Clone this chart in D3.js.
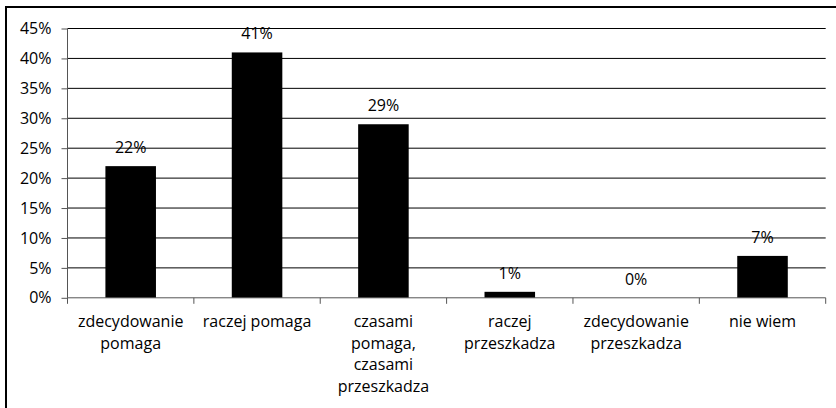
<!DOCTYPE html>
<html>
<head>
<meta charset="utf-8">
<script src="https://cdn.jsdelivr.net/npm/d3@7"></script>
<style>
  html, body { margin: 0; padding: 0; background: #fff; }
  svg { display: block; }
  text { font-family: "Open Sans", "Noto Sans", sans-serif; fill: #000; }
</style>
</head>
<body>
<svg id="chart" width="836" height="408"></svg>
<script>
// Survey answers and their share of responses (%)
const categories = [
  ["zdecydowanie", "pomaga"],
  ["raczej pomaga"],
  ["czasami", "pomaga,", "czasami", "przeszkadza"],
  ["raczej", "przeszkadza"],
  ["zdecydowanie", "przeszkadza"],
  ["nie wiem"]
];
const values = [22, 41, 29, 1, 0, 7];
const yTicks = [0, 5, 10, 15, 20, 25, 30, 35, 40, 45];

const FONT_SIZE = 16;
const svg = d3.select("#chart");
const plot = { left: 67.5, right: 825.7, top: 28.5, bottom: 297.8 };

// Outer frame (its right and bottom edges run off the canvas)
svg.append("rect")
  .attr("x", 6).attr("y", 7)
  .attr("width", 900).attr("height", 500)
  .attr("fill", "none").attr("stroke", "#000").attr("stroke-width", 2);

const x = d3.scaleBand()
  .domain(d3.range(categories.length))
  .range([plot.left, plot.right])
  .paddingInner(0.6).paddingOuter(0.3);

const y = d3.scaleLinear().domain([0, 45]).range([plot.bottom, plot.top]);

// Horizontal gridlines
svg.append("g").selectAll("line")
  .data(yTicks.filter(d => d > 0))
  .join("line")
  .attr("x1", plot.left).attr("x2", plot.right)
  .attr("y1", d => y(d)).attr("y2", d => y(d))
  .attr("stroke", "#000").attr("stroke-width", 1);

// Y axis
const yAxis = d3.axisLeft(y).tickValues(yTicks).tickFormat(d => d + "%").tickSize(6).tickPadding(10);
const gy = svg.append("g").attr("transform", `translate(${plot.left},0)`).call(yAxis);
gy.select(".domain").attr("stroke", "#555").attr("d", `M0,${plot.top}V${plot.bottom}`);
gy.selectAll(".tick line").attr("stroke", "#555");
gy.selectAll(".tick text").attr("font-size", FONT_SIZE).attr("font-family", "Open Sans").attr("fill", "#000");

// Bars
svg.append("g").selectAll("rect")
  .data(values)
  .join("rect")
  .attr("x", (d, i) => x(i))
  .attr("width", x.bandwidth())
  .attr("y", d => y(d))
  .attr("height", d => plot.bottom - y(d))
  .attr("fill", "#000");

// X axis baseline with boundary ticks between categories
const gx = svg.append("g");
gx.append("line")
  .attr("x1", plot.left).attr("x2", plot.right)
  .attr("y1", plot.bottom).attr("y2", plot.bottom)
  .attr("stroke", "#555");
gx.selectAll("line.tick")
  .data(d3.range(categories.length + 1))
  .join("line")
  .attr("class", "tick")
  .attr("x1", i => plot.left + i * (plot.right - plot.left) / categories.length)
  .attr("x2", i => plot.left + i * (plot.right - plot.left) / categories.length)
  .attr("y1", plot.bottom).attr("y2", plot.bottom + 6)
  .attr("stroke", "#555");

// Category labels (multi-line)
svg.append("g").selectAll("text")
  .data(categories)
  .join("text")
  .attr("text-anchor", "middle")
  .attr("font-size", FONT_SIZE)
  .attr("x", (d, i) => x(i) + x.bandwidth() / 2)
  .attr("y", 327)
  .each(function(lines, i) {
    const t = d3.select(this);
    lines.forEach((ln, k) => {
      t.append("tspan")
        .attr("x", x(i) + x.bandwidth() / 2)
        .attr("dy", k === 0 ? 0 : 21.7)
        .text(ln);
    });
  });

// Value labels above bars
svg.append("g").selectAll("text")
  .data(values)
  .join("text")
  .attr("text-anchor", "middle")
  .attr("font-size", FONT_SIZE)
  .attr("x", (d, i) => x(i) + x.bandwidth() / 2)
  .attr("y", d => y(d) - 13)
  .text(d => d + "%");
</script>
</body>
</html>
